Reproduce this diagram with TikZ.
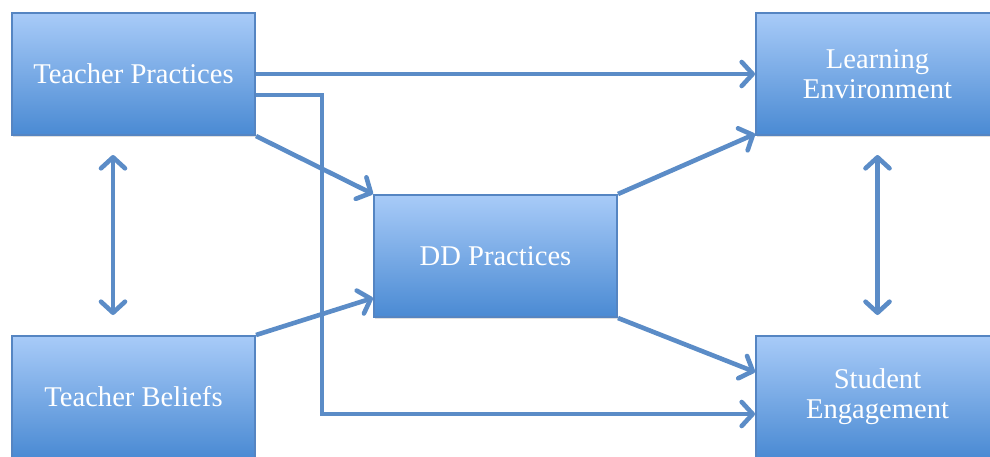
\documentclass[tikz,border=0pt]{standalone}
\usepackage{fontspec}
\setmainfont{Liberation Serif}
\usepackage{tikz}
\usetikzlibrary{arrows.meta}
\usetikzlibrary{shadows}

\definecolor{boxtop}{HTML}{A8CBF8}
\definecolor{boxbot}{HTML}{4A8AD3}
\definecolor{boxline}{HTML}{5585C2}
\definecolor{linkcol}{HTML}{5B8CC7}

\tikzset{
    block/.style={rectangle, draw=boxline, line width=1pt, top color=boxtop, bottom color=boxbot,
        minimum width=121.5pt, minimum height=61pt, inner sep=2pt, align=center,
        text=white, font=\fontsize{14.3}{15}\selectfont,
        drop shadow={opacity=0.25, shadow xshift=0.6pt, shadow yshift=-1.2pt}},
    link/.style={draw=linkcol, line width=2.3pt, -{Straight Barb[round, length=5.5pt, width=12pt]}},
    both/.style={link, {Straight Barb[round, length=5.5pt, width=12pt]}-{Straight Barb[round, length=5.5pt, width=12pt]}}}

\begin{document}
\begin{tikzpicture}[x=0.5pt, y=-0.5pt]

        \useasboundingbox (0,0) rectangle (990,456);

        \node[block] (tp) at (133.5,74) {Teacher Practices};
        \node[block] (tb) at (133.5,397) {Teacher Beliefs};
        \node[block] (dd) at (495.5,256) {DD Practices};
        \node[block] (le) at (877.5,74) {Learning\\Environment};
        \node[block] (se) at (877.5,397) {Student\\Engagement};

        \coordinate (bend) at (322,95);
        \coordinate (low) at (322,414);
        \coordinate (lup) at (113,155);
        \coordinate (ldown) at (113,315);
        \coordinate (rup) at (877.5,155);
        \coordinate (rdown) at (877.5,315);

        \draw[link] (tp) -- (le);
        \draw[link] (tp.east |- bend) -- (bend) -- (low) -- (se.west |- low);
        \draw[link] (tp.south east) -- (dd.north west);
        \draw[link] (tb.north east) -- ([yshift=10pt]dd.south west);
        \draw[link] (dd.north east) -- ([yshift=1pt]le.south west);
        \draw[link] (dd.south east) -- ([yshift=12.5pt]se.west);
        \draw[both] (lup) -- (ldown);
        \draw[both] (rup) -- (rdown);

\end{tikzpicture}
\end{document}
